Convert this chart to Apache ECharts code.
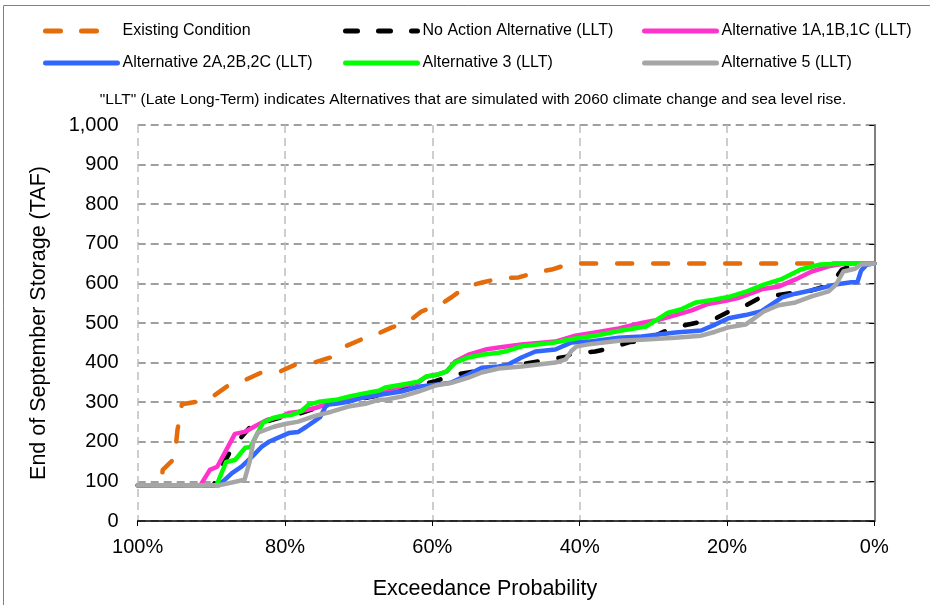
<!DOCTYPE html>
<html><head><meta charset="utf-8">
<script src="https://cdn.jsdelivr.net/npm/echarts@6/dist/echarts.min.js"></script>
<style>html,body{margin:0;padding:0;background:#fff}#c{width:930px;height:605px}</style>
</head><body><div id="c"></div>
<script>
const seriesNames = ['Existing Condition','No Action Alternative (LLT)','Alternative 1A,1B,1C (LLT)','Alternative 2A,2B,2C (LLT)','Alternative 3 (LLT)','Alternative 5 (LLT)'];
const yTicks = [0,100,200,300,400,500,600,700,800,900,1000];
const xTicks = [100,80,60,40,20,0];
const footnote = '"LLT" (Late Long-Term) indicates Alternatives that are simulated with 2060 climate change and sea level rise.';
const xTitle = 'Exceedance Probability';
const yTitle = 'End of September Storage (TAF)';

const existing = [[100,90],[96.9,90],[96.6,129],[95.0,158],[94.6,230],[94.0,295],[92.0,301],[91.0,306],[89.7,316],[87.7,342],[85.3,357],[83.2,375],[80.6,378],[78.6,395],[76.1,400],[73.8,413],[71.8,441],[69.7,458],[67.4,473],[65.5,489],[63.2,504],[61.5,529],[58.9,547],[57.4,565],[55.4,592],[53.1,603],[50.7,613],[48.3,615],[45.9,628],[43.8,635],[41.2,650],[0,650]];
const noAction = [[100,90],[89.7,90],[88.5,140],[87.0,190],[86.5,200],[84.7,238],[82.6,251],[80.5,262],[78.2,270],[75.2,289],[73.7,297],[69.6,309],[67.3,317],[64.2,333],[61.9,343],[59.6,353],[56.9,370],[55.1,375],[52.8,382],[51.0,387],[49.7,390],[45.6,403],[41.8,415],[41.1,423],[37.9,428],[36.1,435],[33.2,452],[31.2,455],[28.6,478],[26.6,491],[24.0,501],[21.8,509],[19.7,529],[17.7,542],[15.4,565],[13.4,570],[10.7,577],[8.9,580],[6.2,595],[5.2,615],[4.4,635],[2.6,648],[0,650]];
const alt1 = [[100,90],[91.5,90],[90.2,129],[89.2,137],[86.8,220],[85.5,225],[84.2,238],[82.4,256],[80.5,263],[79.5,273],[78.2,276],[75.8,286],[73.7,299],[69.6,311],[67.3,319],[64.2,340],[61.9,350],[60.8,365],[59.2,370],[58.1,377],[56.9,403],[55.1,420],[52.8,433],[51.0,438],[47.9,446],[43.3,453],[40.6,468],[37.9,476],[34.7,486],[31.6,500],[29.3,508],[27.0,520],[24.8,532],[22.6,548],[20.2,556],[18.5,563],[15.3,585],[13.0,592],[10.7,610],[8.5,630],[6.2,643],[4.0,650],[0,650]];
const alt2 = [[100,90],[89.0,90],[87.2,121],[85.9,137],[84.5,162],[83.2,187],[82.2,200],[79.5,222],[78.2,225],[77.1,238],[76.1,251],[75.2,263],[74.5,289],[74.1,294],[73.1,296],[71.4,301],[69.6,311],[67.3,318],[64.2,327],[61.9,339],[59.6,344],[57.5,349],[55.1,370],[53.3,387],[51.0,390],[49.7,395],[47.9,413],[46.0,428],[43.3,433],[41.1,451],[38.8,453],[34.7,463],[31.6,466],[27.0,476],[23.5,481],[21.6,496],[19.8,512],[17.5,520],[15.3,530],[14.5,540],[12.5,565],[10.7,574],[9.9,577],[7.2,588],[5.3,597],[3.1,603],[2.3,603],[1.8,632],[1.0,648],[0,650]];
const alt3 = [[100,90],[89.3,90],[88.0,149],[86.8,154],[85.4,185],[84.7,187],[83.0,248],[81.5,261],[80.5,265],[79.1,268],[77.9,276],[76.8,294],[75.4,301],[73.1,306],[71.4,314],[69.6,321],[67.3,329],[66.4,337],[64.2,344],[61.9,352],[60.8,365],[59.2,370],[58.1,377],[56.9,400],[55.1,413],[53.3,420],[51.0,425],[49.7,430],[47.9,441],[43.3,451],[40.6,461],[37.9,468],[34.7,480],[31.0,491],[28.0,526],[26.3,534],[24.2,552],[21.8,559],[19.5,567],[17.3,580],[15.0,597],[12.7,610],[10.0,635],[7.3,648],[4.0,650],[0,650]];
const alt5 = [[100,90],[89.0,90],[85.5,104],[84.8,150],[84.3,200],[83.7,223],[81.5,238],[80.0,245],[78.2,251],[75.8,266],[73.7,276],[71.4,289],[69.1,296],[67.3,306],[66.4,306],[64.2,314],[61.9,327],[59.6,342],[57.4,349],[55.1,362],[53.3,375],[51.0,385],[47.9,390],[45.6,395],[43.3,400],[41.9,408],[41.1,430],[40.4,441],[38.8,446],[34.7,455],[31.6,458],[27.0,463],[23.5,468],[21.6,478],[19.8,489],[17.5,496],[15.0,529],[13.0,545],[10.7,552],[8.5,567],[6.2,580],[5.2,597],[4.2,630],[2.6,637],[1.8,648],[0,650]];

const seriesData = [existing, noAction, alt1, alt2, alt3, alt5];
const colors = ['#E46C0A','#000000','#FF33CC','#3366FF','#00FF00','#A6A6A6'];
const dashes = [[15,21],[12,21],'solid','solid','solid','solid'];

const FONT = 'Liberation Sans, Arial, sans-serif';
const chart = echarts.init(document.getElementById('c'), null, {renderer:'canvas'});
const legendBase = {orient:'vertical', top:23, padding:0, itemWidth:72, itemHeight:14, itemGap:16,
  itemStyle:{opacity:0},
  lineStyle:{width:5, cap:'round'},
  textStyle:{fontFamily:FONT, fontSize:16, color:'#000'}};
chart.setOption({
  animation:false,
  backgroundColor:'#fff',
  title:{text:footnote, left:473, top:92, textAlign:'center', padding:0,
    textStyle:{fontFamily:FONT, fontSize:15.5, fontWeight:'normal', color:'#000'}},
  legend:[
    Object.assign({}, legendBase, {left:43, data:[seriesNames[0], seriesNames[3]]}),
    Object.assign({}, legendBase, {left:343, data:[seriesNames[1], seriesNames[4]]}),
    Object.assign({}, legendBase, {left:642, data:[seriesNames[2], seriesNames[5]]})
  ],
  grid:{left:137.7, right:55.7, top:125, bottom:83.8, containLabel:false},
  xAxis:{type:'value', min:0, max:100, interval:20, inverse:true,
    name:xTitle, nameLocation:'middle', nameGap:57,
    nameTextStyle:{fontFamily:FONT, fontSize:21.5, color:'#000', padding:[0,42,0,0]},
    axisLine:{show:true, onZero:false, lineStyle:{color:'#000', width:1.5}},
    axisTick:{show:true, length:5, lineStyle:{color:'#000'}},
    axisLabel:{formatter:v=>v+'%', fontFamily:FONT, fontSize:20, color:'#000', margin:16},
    splitLine:{show:true, lineStyle:{color:'#BFBFBF', width:1.5, type:[8,5]}}
  },
  yAxis:[{type:'value', min:0, max:1000, interval:100,
    name:yTitle, nameLocation:'middle', nameGap:88, nameRotate:90,
    nameTextStyle:{fontFamily:FONT, fontSize:21.5, color:'#000'},
    axisLine:{show:true, lineStyle:{color:'#000', width:1.5}},
    axisTick:{show:true, length:5, lineStyle:{color:'#000'}},
    axisLabel:{formatter:v=>v.toLocaleString('en-US'), fontFamily:FONT, fontSize:20, color:'#000', margin:19},
    splitLine:{show:true, lineStyle:{color:'#808080', width:1.5, type:[8,5]}}
  },{type:'value', min:0, max:1000, interval:100, position:'right',
    axisLine:{show:true, lineStyle:{color:'#808080', width:2}},
    axisTick:{show:false}, axisLabel:{show:false}, splitLine:{show:false}}],
  graphic:[{type:'rect', shape:{x:3.5, y:5.5, width:1000, height:1000},
    style:{fill:'none', stroke:'#808080', lineWidth:1}, silent:true, z:-1}],
  series: seriesNames.map((n,i)=>({
    name:n, type:'line', data:seriesData[i], showSymbol:false, symbol:'none',
    lineStyle:{color:colors[i], width:4.5, type:dashes[i], cap:'round', join:'round'},
    itemStyle:{color:colors[i]}, z:2+i
  }))
});
</script></body></html>
